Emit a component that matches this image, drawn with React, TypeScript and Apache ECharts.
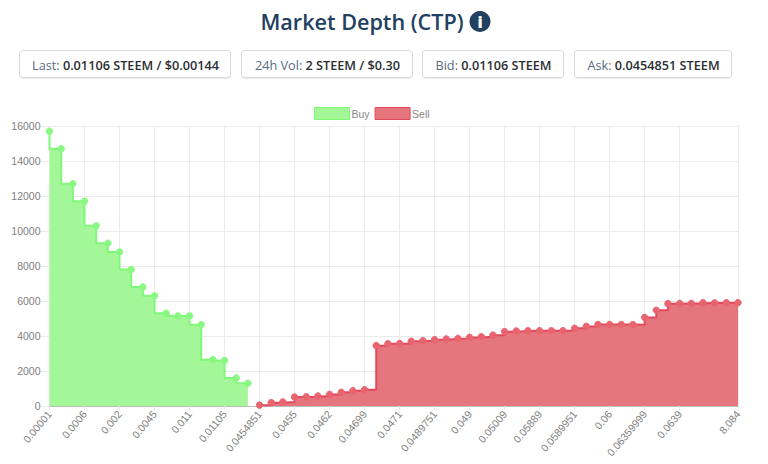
import React, { useEffect, useRef } from "react";
import * as echarts from "echarts";

const categories = [
  "0.00001","0.0003","0.0004","0.0006","0.001","0.0015","0.002","0.0025","0.003","0.0045",
  "0.005","0.008","0.011","0.01101","0.01102","0.01105","0.011055","0.01106","0.0454851","0.04541",
  "0.04545","0.0455","0.0457","0.046","0.0462","0.0465","0.0468","0.04699","0.047","0.04705",
  "0.0471","0.048","0.0485","0.0489751","0.04898","0.04899","0.049","0.0495","0.05","0.05009",
  "0.0505","0.055","0.05889","0.0589","0.0589901","0.0589951","0.059","0.0595","0.06","0.061",
  "0.063","0.06359999","0.0636","0.0638","0.0639","0.064","0.065","0.07","0.08","8.084",
];
const shownLabels = [
  "0.00001","0.0006","0.002","0.0045","0.011","0.01105","0.0454851","0.0455","0.0462","0.04699",
  "0.0471","0.0489751","0.049","0.05009","0.05889","0.0589951","0.06","0.06359999","0.0639","8.084",
];
const buyValues = [15700,14700,12700,11700,10300,9300,8800,7800,6800,6300,5300,5150,5150,4650,2650,2600,1600,1300];
const sellValues = [
  50,190,230,514,530,570,660,780,870,930,3450,3560,3570,3700,3730,3790,3830,3860,3920,3960,4050,
  4250,4285,4300,4300,4300,4300,4440,4550,4660,4660,4660,4650,5060,5470,5850,5860,5860,5900,5890,5900,5900,
];
const yTicks = { min: 0, max: 16000, interval: 2000 };
const titleText = "Market Depth (CTP)";
const infoBoxes = [
  { label: "Last: ", value: "0.01106 STEEM / $0.00144", x: 20, w: 211 },
  { label: "24h Vol: ", value: "2 STEEM / $0.30", x: 242, w: 171 },
  { label: "Bid: ", value: "0.01106 STEEM", x: 423, w: 141 },
  { label: "Ask: ", value: "0.0454851 STEEM", x: 575, w: 157 },
];

const FONT = '"Open Sans", sans-serif';
const GRID_FONT = '"Liberation Sans", Arial, sans-serif';
const NAVY = "#22405f";

export default function App() {
  const ref = useRef<HTMLDivElement>(null);
  useEffect(() => {
    const chart = echarts.init(ref.current!, undefined, { renderer: "svg", width: 768, height: 464 });
    const buyData = categories.map((_, i) => (i < buyValues.length ? buyValues[i] : null));
    const sellData = categories.map((_, i) => (i >= buyValues.length ? sellValues[i - buyValues.length] : null));
    const shown = new Set(shownLabels);
    const graphicElements: any[] = [
      {
        type: "text", x: 362, y: 21,
        style: { text: titleText, font: `600 21.6px ${FONT}`, fill: NAVY, align: "center", verticalAlign: "middle" },
      },
      { type: "circle", shape: { cx: 480, cy: 21.5, r: 10.5 }, style: { fill: NAVY } },
      {
        type: "text", x: 480, y: 21.5,
        style: { text: "i", font: `800 16px ${FONT}`, fill: "#fff", align: "center", verticalAlign: "middle" },
      },
    ];
    infoBoxes.forEach((b) => {
      graphicElements.push({
        type: "rect",
        shape: { x: b.x - 0.5, y: 50.5, width: b.w, height: 27, r: 3 },
        style: { fill: "#fff", stroke: "#dadada", lineWidth: 1, shadowBlur: 1, shadowColor: "rgba(0,0,0,0.08)", shadowOffsetY: 1 },
      });
      graphicElements.push({
        type: "text", x: b.x + b.w / 2, y: 64.5,
        style: {
          text: `{a|${b.label}}{b|${b.value}}`,
          align: "center", verticalAlign: "middle",
          rich: {
            a: { font: `400 12.7px ${FONT}`, fill: "#5b6b7c" },
            b: { font: `600 12.7px ${FONT}`, fill: "#2b2f33" },
          },
        },
      });
    });
    chart.setOption({
      animation: false,
      backgroundColor: "#fff",
      textStyle: { fontFamily: GRID_FONT },
      graphic: { elements: graphicElements },
      legend: {
        top: 107, left: 314, padding: 0,
        itemWidth: 35, itemHeight: 12, itemGap: 5,
        icon: "rect",
        textStyle: { color: "#888", fontSize: 10.5, fontFamily: GRID_FONT, padding: [0, 0, 3, -3] },
        data: [
          { name: "Buy", itemStyle: { color: "#a3f798", borderColor: "#7ff878", borderWidth: 1 } },
          { name: "Sell", itemStyle: { color: "#e5767d", borderColor: "#e5475c", borderWidth: 1 } },
        ],
      },
      grid: { left: 49.5, right: 30, top: 126, bottom: 58, containLabel: false },
      xAxis: {
        type: "category",
        data: categories,
        boundaryGap: false,
        axisLine: { lineStyle: { color: "#bbb" } },
        axisTick: { show: true, length: 4, lineStyle: { color: "#e6e6e6" }, interval: (i: number, v: string) => shown.has(v) },
        axisLabel: {
          rotate: 50, color: "#808080", fontSize: 10.5, fontFamily: GRID_FONT, margin: 6,
          interval: (i: number, v: string) => shown.has(v),
          hideOverlap: false,
        },
        splitLine: { show: true, lineStyle: { color: "#ebebeb" }, interval: (i: number, v: string) => shown.has(v) },
      },
      yAxis: {
        type: "value",
        ...yTicks,
        axisLine: { show: false },
        axisTick: { show: true, length: 9, lineStyle: { color: "#ebebeb" } },
        axisLabel: { color: "#808080", fontSize: 10.5, fontFamily: GRID_FONT, margin: 9, formatter: (v: number) => String(v) },
        splitLine: { show: true, lineStyle: { color: "#ebebeb" } },
      },
      series: [
        {
          name: "Buy", type: "line", step: "start", data: buyData,
          symbol: "circle", symbolSize: 6.5, showAllSymbol: true, connectNulls: false,
          lineStyle: { color: "#7ff878", width: 2 },
          itemStyle: { color: "#8af983", borderColor: "#8af983" },
          areaStyle: { color: "#a3f798", opacity: 1 },
        },
        {
          name: "Sell", type: "line", step: "end", data: sellData,
          symbol: "circle", symbolSize: 6.5, showAllSymbol: true, connectNulls: false,
          lineStyle: { color: "#e5475c", width: 2 },
          itemStyle: { color: "#e8656f", borderColor: "#e8656f" },
          areaStyle: { color: "#e5767d", opacity: 1 },
        },
      ],
    });
    return () => chart.dispose();
  }, []);
  return <div ref={ref} style={{ position: "absolute", left: 0, top: 0, width: 768, height: 464 }} />;
}
